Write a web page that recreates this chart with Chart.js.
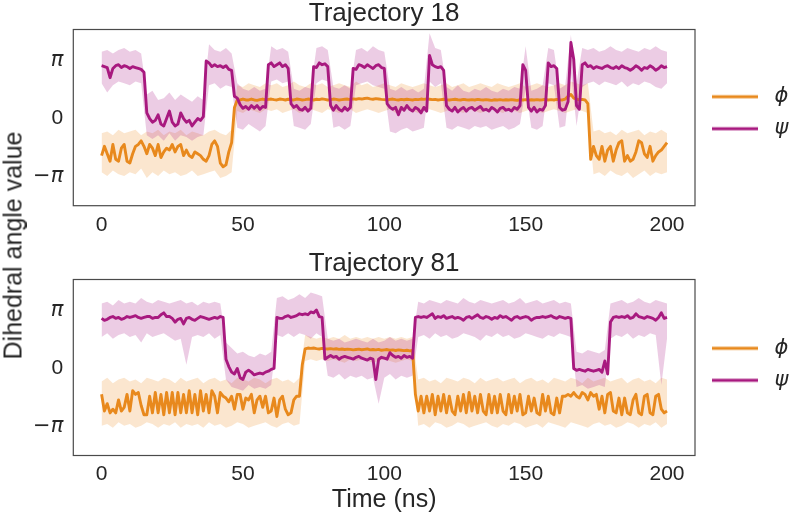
<!DOCTYPE html>
<html>
<head>
<meta charset="utf-8">
<script src="https://cdn.jsdelivr.net/npm/chart.js@4.4.1/dist/chart.umd.min.js"></script>
<style>
  html, body { margin: 0; padding: 0; background: #ffffff; }
  #wrap { position: relative; width: 793px; height: 516px; overflow: hidden; background: #ffffff; }
  canvas { position: absolute; left: 0; }
  #ylab { position: absolute; left: -137.5px; top: 233px; width: 300px; height: 25px; line-height: 25px;
          text-align: center; transform: rotate(-90deg); font-family: 'Liberation Sans', Arial, sans-serif;
          font-size: 25px; color: #262626; white-space: nowrap; }
</style>
</head>
<body>
<div id="wrap">
  <canvas id="c18" width="793" height="250" style="top:0px"></canvas>
  <canvas id="c81" width="793" height="266" style="top:250px"></canvas>
  <div id="ylab">Dihedral angle value</div>
</div>
<script>
// ---------- data (radians), main traces sampled every 1 ns, raw-noise envelope every 2 ns ----------
const xTicks = [0, 50, 100, 150, 200];
const yTicks = [-Math.PI, 0, Math.PI];
const yTickLabels = ['\u2212\u03c0', '0', '\u03c0'];
const seriesLabels = ['\u03d5', '\u03c8'];
const titles = ['Trajectory 18', 'Trajectory 81'];

const psi18 = [2.85,2.8,2.75,2.2,2.7,2.85,2.9,2.75,2.85,2.8,
 2.7,2.8,2.75,2.7,2.65,2.5,0.3,0.0,-0.2,-0.1,
 0.2,-0.3,-0.4,0.0,0.4,-0.2,-0.4,-0.3,0.3,0.0,
 -0.2,-0.1,-0.4,-0.2,0.0,-0.1,0.1,3.1,3.0,2.8,
 2.9,2.8,2.85,2.75,2.85,2.65,2.6,1.2,1.1,0.75,
 0.55,0.65,0.5,0.7,0.55,0.7,0.5,0.65,0.6,2.9,
 3.0,2.8,2.9,3.0,2.8,2.9,2.7,0.8,0.6,0.7,
 0.5,0.45,0.6,0.4,0.55,2.8,2.75,3.0,2.9,2.95,
 2.8,0.7,0.45,0.7,0.5,0.4,0.6,0.45,0.6,2.7,
 2.65,2.9,2.85,2.75,2.9,2.8,2.7,2.85,2.9,2.75,
 2.7,0.8,0.6,0.5,0.6,0.2,0.6,0.45,0.7,0.5,
 0.4,0.6,0.5,0.3,0.6,0.4,3.4,2.9,2.8,2.75,
 2.8,2.6,0.7,0.5,0.4,0.6,0.35,0.5,0.6,0.4,
 0.55,0.6,0.45,0.55,0.65,0.45,0.5,0.4,0.6,0.5,
 0.35,0.55,0.6,0.45,0.5,0.4,0.6,0.5,0.7,2.9,
 2.6,0.6,0.4,0.6,0.35,0.5,0.45,0.7,3.0,2.8,
 2.85,2.7,0.6,0.45,0.5,0.9,4.1,3.2,0.7,0.5,
 2.9,3.0,2.8,2.85,2.7,2.8,2.75,2.7,2.8,2.85,
 2.75,2.7,2.8,2.7,2.85,2.75,2.7,2.6,2.7,2.85,
 2.75,2.6,2.75,2.7,2.85,2.75,2.6,2.7,2.85,2.75,
 2.8];

const phi18 = [-2.0,-1.5,-1.9,-2.3,-1.4,-2.2,-2.3,-1.6,-1.4,-2.3,
 -2.4,-1.9,-1.5,-1.4,-1.2,-1.5,-1.9,-1.4,-1.6,-2.0,
 -1.4,-2.1,-1.8,-1.6,-1.7,-1.4,-1.8,-1.5,-1.4,-2.0,
 -1.7,-2.0,-2.1,-1.8,-1.9,-2.0,-2.2,-2.3,-2.0,-1.4,
 -1.2,-1.5,-2.4,-2.6,-2.5,-1.8,-1.3,0.6,1.0,1.0,
 1.05,1.0,1.0,1.05,1.0,0.98,1.02,1.05,1.0,1.03,
 1.05,1.02,1.0,1.05,1.03,1.0,1.04,1.02,1.0,1.05,
 1.03,1.0,1.02,1.05,1.03,1.0,1.04,1.02,1.06,1.03,
 1.0,1.02,1.05,1.03,1.0,1.02,1.04,1.05,1.02,1.06,
 1.04,1.07,1.05,1.08,1.1,1.06,1.04,1.07,1.05,1.03,
 1.02,1.0,1.03,1.05,1.02,1.0,1.03,1.01,1.04,1.02,
 1.0,1.03,1.02,1.05,1.03,1.06,1.04,1.02,1.03,1.0,
 1.02,1.04,1.01,1.0,1.02,1.04,1.01,1.0,1.03,1.01,
 1.0,1.02,1.0,1.03,1.01,1.0,1.02,1.0,0.98,1.01,
 1.0,1.02,0.99,1.01,1.0,1.02,1.0,0.98,1.01,1.0,
 1.02,0.99,1.01,1.0,1.02,1.0,1.01,1.03,1.0,1.02,
 1.0,1.03,1.01,1.0,1.05,1.2,1.3,1.1,1.05,1.0,
 1.03,1.0,0.8,-2.2,-1.5,-2.0,-2.2,-1.5,-2.3,-1.7,
 -1.5,-2.3,-1.7,-1.3,-1.2,-2.3,-2.0,-2.3,-2.2,-1.8,
 -1.2,-1.3,-1.9,-2.1,-1.5,-2.3,-2.0,-1.8,-1.7,-1.5,
 -1.3];

const psi18Hi = [3.6,3.7,3.5,3.7,3.8,3.6,3.7,3.5,1.3,1.5,
 1.0,1.1,1.4,1.0,1.3,1.1,0.9,1.2,1.0,4.0,
 3.7,3.6,3.8,3.5,1.9,1.6,1.5,1.7,1.5,1.6,
 3.9,3.7,3.8,3.6,1.6,1.5,1.7,1.6,3.8,3.9,
 3.7,1.7,1.6,1.8,1.6,3.7,3.8,3.6,3.9,3.7,
 3.6,1.6,1.5,1.7,1.5,1.6,1.4,1.6,4.6,3.8,
 3.7,1.7,1.5,1.8,1.5,1.4,1.6,1.5,1.7,1.5,
 1.4,1.6,1.5,1.7,1.6,3.9,1.5,1.6,1.8,3.8,
 3.7,1.6,1.8,4.5,1.9,3.8,3.7,3.8,3.6,3.7,
 3.9,3.7,3.6,3.8,3.7,3.6,3.8,3.7,3.9,3.7,
 3.6];
const psi18Lo = [1.9,1.4,1.8,2.0,1.9,1.8,2.0,1.9,-0.9,-1.1,
 -0.9,-1.2,-0.8,-1.2,-0.9,-1.0,-1.2,-1.0,-0.9,1.8,
 1.9,1.6,1.8,1.7,-0.5,-0.6,-0.3,-0.5,-0.7,-0.4,
 2.0,2.1,1.9,2.0,-0.4,-0.5,-0.6,-0.3,1.9,2.1,
 2.0,-0.5,-0.4,-0.6,-0.4,1.8,1.9,2.0,1.8,1.7,
 1.6,-0.7,-0.8,-0.6,-0.5,-0.7,-0.6,-0.5,2.0,1.7,
 1.9,-0.5,-0.6,-0.4,-0.5,-0.6,-0.4,-0.5,-0.4,-0.6,
 -0.5,-0.4,-0.6,-0.5,-0.3,1.6,-0.5,-0.6,-0.4,1.9,
 1.8,-0.5,-0.4,2.5,-0.4,1.7,1.9,2.0,1.8,2.0,
 1.9,1.8,2.0,1.7,1.9,1.8,2.0,1.9,1.7,1.6,
 1.9];
const phi18Hi = [-0.8,-0.7,-0.9,-0.6,-0.8,-0.7,-0.6,-0.9,-0.7,-0.8,
 -0.6,-0.9,-0.7,-0.8,-0.6,-0.9,-0.7,-0.8,-0.9,-0.7,
 -0.6,-0.8,-0.9,-0.6,1.8,1.7,1.9,1.8,1.7,1.9,
 1.8,1.9,1.7,1.8,2.0,1.8,1.7,1.9,1.8,1.9,
 1.7,1.8,1.9,1.8,1.7,2.0,1.8,1.9,1.7,1.8,
 1.9,1.8,1.7,1.9,1.8,1.7,1.8,1.9,1.8,1.7,
 1.8,1.9,1.7,1.8,1.9,1.7,1.8,1.9,1.8,1.7,
 1.9,1.8,1.7,1.8,1.9,1.7,1.8,1.9,1.8,1.7,
 1.8,1.9,1.8,2.0,1.9,1.8,1.9,-0.7,-0.6,-0.8,
 -0.7,-0.9,-0.6,-0.8,-0.7,-0.6,-0.9,-0.7,-0.8,-0.6,
 -0.8];
const phi18Lo = [-2.9,-3.1,-2.8,-3.0,-3.1,-2.9,-3.0,-2.7,-3.2,-2.9,
 -3.1,-2.8,-3.0,-2.9,-3.1,-3.0,-2.8,-3.1,-3.0,-2.9,
 -2.8,-3.2,-3.1,-2.9,0.4,0.3,0.5,0.4,0.3,0.5,
 0.4,0.5,0.3,0.4,0.5,0.3,0.4,0.5,0.4,0.3,
 0.5,0.4,0.3,0.4,0.5,0.3,0.4,0.5,0.4,0.3,
 0.4,0.5,0.3,0.4,0.5,0.4,0.3,0.4,0.5,0.4,
 0.3,0.4,0.5,0.4,0.3,0.5,0.4,0.3,0.4,0.5,
 0.4,0.3,0.5,0.4,0.3,0.4,0.5,0.4,0.3,0.4,
 0.5,0.4,0.3,0.4,0.5,0.4,0.3,-3.0,-2.9,-3.1,
 -2.8,-3.0,-3.1,-2.9,-3.2,-3.0,-2.8,-3.1,-2.9,-3.0,
 -2.9];

const psi81 = [2.7,2.6,2.65,2.75,2.8,2.7,2.75,2.65,2.7,2.8,
 2.75,2.8,2.85,2.75,2.7,2.75,2.8,2.8,2.7,2.75,
 2.75,2.9,3.0,2.8,2.8,2.7,2.5,2.65,2.7,2.4,
 2.7,2.75,2.65,2.6,2.7,2.8,2.75,2.7,2.65,2.7,
 2.75,2.7,2.8,2.75,0.5,0.1,-0.2,-0.3,0.0,-0.5,
 -0.6,-0.2,-0.1,-0.2,-0.35,-0.3,-0.25,-0.3,-0.2,-0.15,
 -0.05,0.0,2.75,2.7,2.7,2.8,2.85,2.75,2.8,2.85,
 2.95,2.9,2.95,2.9,3.05,3.0,3.15,2.8,2.75,0.5,
 0.6,0.7,0.6,0.65,0.5,0.6,0.65,0.6,0.55,0.5,
 0.6,0.65,0.55,0.5,0.45,0.55,0.5,-0.6,0.5,0.6,
 0.55,0.5,0.85,0.7,0.6,0.65,0.55,0.7,0.6,0.65,
 0.55,2.75,2.8,2.75,2.8,2.75,2.85,2.95,2.7,2.8,
 2.75,2.85,2.7,2.75,2.8,2.7,2.75,2.7,2.6,2.75,
 2.8,2.7,2.8,2.9,2.75,2.7,2.8,2.75,2.65,2.75,
 2.7,2.85,2.75,2.8,2.7,2.6,2.75,2.8,2.7,2.75,
 2.8,2.75,2.6,2.7,2.75,2.75,2.8,2.75,2.8,2.85,
 2.75,2.7,2.8,2.75,2.7,2.75,2.7,0.0,-0.1,-0.05,
 -0.1,-0.15,-0.05,-0.1,-0.15,-0.1,-0.05,-0.2,0.4,-0.3,
 2.5,2.75,2.8,2.75,2.8,2.75,2.85,2.7,2.75,2.95,
 2.8,2.75,2.7,2.8,2.75,2.7,2.6,2.75,3.0,2.7,
 2.75];

const phi81 = [-1.4,-2.3,-1.9,-2.4,-2.2,-2.4,-1.7,-2.3,-2.1,-1.4,
 -2.3,-1.2,-1.4,-1.3,-2.0,-2.5,-2.5,-1.5,-2.4,-1.3,
 -2.4,-1.4,-2.5,-1.3,-2.4,-1.3,-2.5,-1.3,-2.4,-1.4,
 -2.4,-1.2,-2.4,-1.4,-2.5,-1.2,-2.3,-1.4,-2.4,-1.2,
 -1.5,-2.4,-1.3,-1.5,-1.6,-1.8,-1.5,-2.2,-1.4,-1.4,
 -2.2,-1.6,-1.7,-1.4,-2.4,-1.7,-1.5,-2.1,-1.5,-2.4,
 -2.3,-1.6,-2.6,-1.7,-1.5,-2.2,-2.5,-2.4,-1.7,-1.5,
 -1.5,0.2,1.05,1.1,1.08,1.1,1.07,1.05,1.08,1.06,
 1.05,1.07,1.04,1.06,1.03,1.05,1.02,1.04,1.03,1.0,
 1.02,1.04,1.01,1.03,1.05,1.0,1.02,1.0,1.03,0.98,
 1.0,1.02,0.98,1.0,0.97,1.0,0.98,0.96,0.98,0.95,
 0.97,-1.4,-2.3,-1.5,-2.4,-1.5,-2.3,-1.4,-2.5,-1.5,
 -2.3,-1.4,-2.4,-1.5,-2.3,-2.5,-1.5,-2.3,-1.4,-2.4,
 -1.3,-2.3,-1.5,-2.4,-1.4,-2.3,-2.5,-1.4,-2.4,-1.5,
 -2.4,-1.4,-2.3,-2.5,-1.4,-2.4,-1.5,-2.3,-1.4,-2.5,
 -2.4,-1.5,-2.3,-1.6,-2.4,-2.5,-1.4,-2.3,-1.5,-2.4,
 -2.5,-1.6,-2.4,-1.5,-1.5,-1.4,-1.5,-1.3,-1.5,-1.6,
 -1.3,-1.4,-1.7,-1.3,-1.5,-1.4,-2.2,-1.5,-2.4,-1.4,
 -1.3,-2.3,-2.4,-1.6,-2.5,-1.6,-2.4,-2.5,-1.7,-1.4,
 -2.4,-2.5,-1.5,-1.4,-2.4,-2.5,-1.5,-1.4,-2.2,-2.4,
 -2.3];

const psi81Hi = [3.5,3.6,3.4,3.7,3.5,3.6,3.5,3.8,3.6,3.5,
 3.7,3.6,3.5,3.6,3.7,3.5,3.6,3.4,3.6,3.5,
 3.6,3.5,1.4,1.1,0.8,0.9,0.7,0.6,0.8,0.7,
 0.9,3.8,3.9,3.7,3.8,4.0,3.8,4.1,4.0,3.9,
 1.6,1.5,1.6,1.4,1.5,1.6,1.5,1.4,1.6,1.4,
 1.5,1.7,1.5,1.6,1.5,1.6,3.6,3.5,3.7,3.6,
 3.5,3.7,3.6,3.5,3.8,3.6,3.5,3.7,3.6,3.5,
 3.6,3.7,3.5,3.6,3.8,3.5,3.6,3.7,3.5,3.6,
 3.7,3.5,3.6,3.5,0.9,0.8,1.0,0.9,0.8,1.0,
 3.5,3.6,3.7,3.5,3.6,3.8,3.6,3.5,3.7,3.6,
 3.5];
const psi81Lo = [1.7,1.9,1.6,1.8,1.9,1.7,1.8,1.4,1.9,1.7,
 1.8,1.9,1.7,1.5,1.6,0.2,1.7,1.8,1.7,1.9,
 1.6,1.8,-0.6,-1.0,-1.1,-1.2,-0.9,-1.1,-1.0,-1.1,
 -0.9,1.8,1.7,1.9,1.7,1.9,1.8,1.6,1.9,1.7,
 -0.4,-0.5,-0.3,-0.6,-0.4,-0.5,-0.4,-0.6,-0.5,-1.9,
 -0.5,-0.3,-0.6,-0.4,-0.5,-0.4,1.7,1.8,1.6,1.9,
 1.7,1.8,1.6,1.7,1.9,1.8,1.7,1.5,1.8,1.7,
 1.9,1.7,1.8,1.6,1.7,1.9,1.8,1.7,1.6,1.8,
 1.7,1.9,1.8,1.7,-1.0,-0.9,-1.1,-1.0,-0.9,-1.0,
 1.6,1.8,1.7,1.9,1.6,1.8,1.7,1.9,1.8,-0.9,
 1.6];
const phi81Hi = [-0.7,-0.5,-0.8,-0.6,-0.5,-0.7,-0.6,-0.8,-0.5,-0.6,
 -0.7,-0.5,-0.6,-0.8,-0.5,-0.7,-0.6,-0.5,-0.8,-0.6,
 -0.5,-0.7,-0.6,-0.8,-0.5,-0.6,-0.7,-0.5,-0.6,-0.8,
 -0.6,-0.5,-0.7,-0.6,-0.8,-0.5,1.8,1.7,1.6,1.7,
 1.6,1.7,1.6,1.8,1.6,1.7,1.6,1.7,1.6,1.7,
 1.6,1.7,1.6,1.7,1.6,1.7,-0.6,-0.5,-0.7,-0.6,
 -0.8,-0.5,-0.6,-0.7,-0.5,-0.6,-0.8,-0.5,-0.7,-0.6,
 -0.5,-0.7,-0.6,-0.5,-0.8,-0.6,-0.5,-0.7,-0.6,-0.8,
 -0.5,-0.6,-0.7,-0.5,-0.6,-0.8,-0.5,-0.7,-0.6,-0.5,
 -0.7,-0.6,-0.5,-0.8,-0.6,-0.5,-0.7,-0.6,-0.8,-0.5,
 -0.6];
const phi81Lo = [-3.1,-3.0,-3.2,-2.9,-3.1,-3.0,-3.2,-3.1,-2.9,-3.0,
 -3.2,-3.0,-3.1,-2.9,-3.2,-3.0,-3.1,-3.0,-3.2,-2.9,
 -3.1,-3.0,-3.2,-3.1,-2.9,-3.0,-3.2,-3.1,-3.0,-2.9,
 -3.1,-3.2,-3.0,-2.9,-3.1,-3.0,0.4,0.5,0.4,0.5,
 0.4,0.5,0.4,0.3,0.5,0.4,0.5,0.4,0.3,0.4,
 0.5,0.4,0.3,0.4,0.5,0.4,-3.1,-3.0,-3.2,-2.9,
 -3.0,-3.2,-3.1,-2.9,-3.0,-3.2,-3.1,-3.0,-2.9,-3.1,
 -3.2,-3.0,-3.1,-2.9,-3.0,-3.2,-3.1,-3.0,-3.2,-2.9,
 -3.0,-3.1,-3.2,-2.9,-3.0,-3.1,-3.2,-3.0,-2.9,-3.1,
 -3.0,-3.2,-3.1,-2.9,-3.0,-3.2,-3.0,-3.1,-2.9,-3.2,
 -3.0];

// ---------- styling ----------
const SANS = "'Liberation Sans', Arial, Helvetica, sans-serif";
const GREEK = "'DejaVu Sans', sans-serif";
const TXT = '#262626';
const ORANGE = '#e8891d';
const MAGENTA = '#a8197f';
const ORANGE_BAND = 'rgba(236,140,36,0.22)';
const MAGENTA_BAND = 'rgba(170,24,131,0.22)';
const LINE_W = 2.9;

Chart.defaults.font.family = SANS;
Chart.defaults.color = TXT;

function pts(vals, step) { return vals.map((v, i) => ({ x: i * step, y: v })); }

function legendLine(color) {
  const c = document.createElement('canvas');
  c.width = 58; c.height = 6;
  const g = c.getContext('2d');
  g.strokeStyle = color; g.lineWidth = LINE_W;
  g.beginPath(); g.moveTo(6, 3); g.lineTo(52, 3); g.stroke();
  return c;
}

const framePlugin = {
  id: 'frame',
  afterDatasetsDraw(chart) {
    const { ctx, chartArea: a } = chart;
    ctx.save();
    ctx.strokeStyle = '#4a4a4a';
    ctx.lineWidth = 1.2;
    ctx.strokeRect(a.left, a.top, a.right - a.left, a.bottom - a.top);
    ctx.restore();
  }
};

function makeChart(id, cfg) {
  const bandLine = { borderWidth: 0, borderColor: 'rgba(0,0,0,0)', pointRadius: 0, tension: 0 };
  return new Chart(document.getElementById(id), {
    type: 'line',
    data: {
      datasets: [
        Object.assign({ label: 'phi band hi', data: pts(cfg.phiHi, 2), fill: '+1', backgroundColor: ORANGE_BAND, order: 4 }, bandLine),
        Object.assign({ label: 'phi band lo', data: pts(cfg.phiLo, 2), fill: false, order: 4 }, bandLine),
        Object.assign({ label: 'psi band hi', data: pts(cfg.psiHi, 2), fill: '+1', backgroundColor: MAGENTA_BAND, order: 3 }, bandLine),
        Object.assign({ label: 'psi band lo', data: pts(cfg.psiLo, 2), fill: false, order: 3 }, bandLine),
        { label: seriesLabels[0], data: pts(cfg.phi, 1), borderColor: ORANGE, borderWidth: LINE_W, pointRadius: 0,
          fill: false, tension: 0, borderJoinStyle: 'round', order: 2 },
        { label: seriesLabels[1], data: pts(cfg.psi, 1), borderColor: MAGENTA, borderWidth: LINE_W, pointRadius: 0,
          fill: false, tension: 0, borderJoinStyle: 'round', order: 1 }
      ]
    },
    options: {
      responsive: false,
      animation: false,
      devicePixelRatio: 1,
      events: [],
      layout: { padding: 0 },
      plugins: {
        title: {
          display: true, text: cfg.title, fullSize: false, color: TXT,
          font: { family: SANS, size: 26, weight: 'normal', lineHeight: 1 },
          padding: { top: 1, bottom: 2.5 }
        },
        legend: {
          display: true, position: 'right', align: 'start', fullSize: false, maxWidth: 98,
          title: { display: true, text: '', padding: 0, font: { size: cfg.legendSpacer, lineHeight: 1 } },
          labels: {
            usePointStyle: true, pointStyleWidth: 58, padding: 11, color: TXT,
            font: { family: GREEK, size: 21, style: 'italic' },
            generateLabels: (chart) => [4, 5].map(i => {
              const ds = chart.data.datasets[i];
              return { text: ds.label, fillStyle: ds.borderColor, strokeStyle: ds.borderColor, lineWidth: 1,
                       pointStyle: legendLine(ds.borderColor), datasetIndex: i, hidden: false, fontColor: TXT };
            })
          }
        },
        tooltip: { enabled: false }
      },
      scales: {
        x: {
          type: 'linear', min: -10, max: 209.9,
          grid: { display: false, drawTicks: false }, border: { display: false },
          afterBuildTicks: s => { s.ticks = xTicks.map(v => ({ value: v })); },
          afterFit: s => { s.height = cfg.xAxisHeight; },
          ticks: { padding: cfg.xTickPad, color: TXT, font: { family: SANS, size: 21 }, maxRotation: 0,
                   autoSkip: false, callback: v => String(v) },
          title: {
            display: cfg.xTitle !== '', text: cfg.xTitle, color: TXT,
            font: { family: SANS, size: 25, lineHeight: 1.2 }, padding: { top: 0, bottom: 0.5 }
          }
        },
        y: {
          type: 'linear', min: -4.7, max: 4.8,
          grid: { display: false, drawTicks: false }, border: { display: false },
          afterBuildTicks: s => { s.ticks = yTicks.map(v => ({ value: v })); },
          afterFit: s => { s.width = 73.3; },
          ticks: {
            padding: 10, color: TXT, autoSkip: false,
            callback: (v, i) => yTickLabels[i],
            font: (c) => (c.tick && Math.abs(c.tick.value) > 0.01)
              ? { family: GREEK, size: 21, style: 'italic' }
              : { family: SANS, size: 21 }
          }
        }
      }
    },
    plugins: [framePlugin]
  });
}

makeChart('c18', { title: titles[0], phi: phi18, psi: psi18, phiHi: phi18Hi, phiLo: phi18Lo,
  psiHi: psi18Hi, psiLo: psi18Lo, xAxisHeight: 44.3, xTickPad: 7, xTitle: '', legendSpacer: 45.7 });
makeChart('c81', { title: titles[1], phi: phi81, psi: psi81, phiHi: phi81Hi, phiLo: phi81Lo,
  psiHi: psi81Hi, psiLo: psi81Lo, xAxisHeight: 60.5, xTickPad: 6, xTitle: 'Time (ns)', legendSpacer: 47.3 });
</script>
</body>
</html>
